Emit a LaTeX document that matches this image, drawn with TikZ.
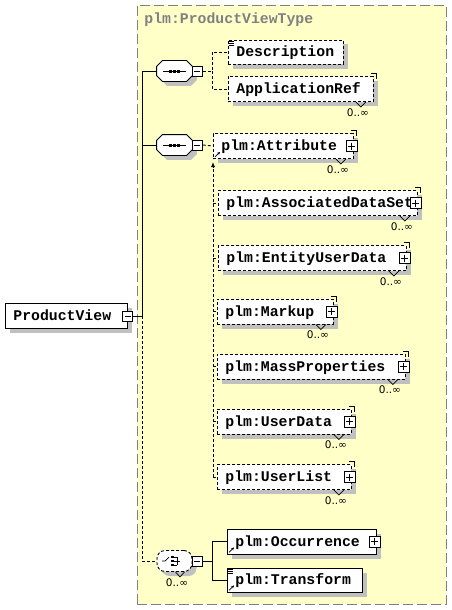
\documentclass[tikz,border=0pt]{standalone}
\usepackage{fontspec}
\newfontfamily\schemafont{Liberation Mono}
\newfontfamily\occursfont{DejaVu Sans}
\usetikzlibrary{shadows, arrows.meta, positioning, calc}
\definecolor{typefill}{RGB}{255,255,200}
\definecolor{typeline}{RGB}{128,128,128}
\definecolor{shadowgray}{RGB}{192,192,192}
% octagon outline round a compositor node
\newcommand{\octagonpath}[1]{($(#1.north west)+(6,0)$) -- ($(#1.north east)+(-6,0)$) -- ($(#1.north east)+(0,6)$)
    -- ($(#1.south east)+(0,-6)$) -- ($(#1.south east)+(-6,0)$) -- ($(#1.south west)+(6,0)$)
    -- ($(#1.south west)+(0,-6)$) -- ($(#1.north west)+(0,6)$) -- cycle}

\begin{document}
\begin{tikzpicture}[
    x=1pt, y=-1pt, line width=0.9pt,
    font=\schemafont\bfseries\fontsize{14.8}{16}\selectfont,
    boxshadow/.style={drop shadow={shadow xshift=4.5pt, shadow yshift=-4.5pt, fill=shadowgray, opacity=1}},
    typebox/.style={rectangle, draw=typeline, fill=typefill, dash pattern=on 10pt off 4pt, anchor=north west, inner sep=0pt},
    elem/.style={rectangle, draw, fill=white, minimum height=25pt, inner xsep=8pt, inner ysep=0pt,
                 text width=#1, text height=9pt, text depth=0pt, align=left, anchor=west, boxshadow},
    optional/.style={dash pattern=on 3pt off 2pt},
    compositor/.style={rectangle, minimum width=35pt, minimum height=20pt, inner sep=0pt},
    choicebox/.style={rectangle, rounded corners=8pt, draw, fill=white, optional,
                      minimum width=35pt, minimum height=21pt, inner sep=0pt, boxshadow},
    toggle/.style={rectangle, draw, solid, fill=white, inner sep=0pt},
    minusbox/.style={toggle, minimum size=10pt, path picture={
        \draw[solid] ([xshift=2pt]path picture bounding box.west) -- ([xshift=-2pt]path picture bounding box.east);}},
    plusbox/.style={toggle, minimum size=11pt, path picture={
        \draw[solid] ([xshift=2pt]path picture bounding box.west) -- ([xshift=-2pt]path picture bounding box.east)
                     ([yshift=-2pt]path picture bounding box.north) -- ([yshift=2pt]path picture bounding box.south);}},
    occurs/.style={font=\occursfont\fontsize{10.5}{12}\selectfont, inner sep=0pt, anchor=north},
    tiny/.style={line width=0.7pt, solid}
]
    \useasboundingbox (0,0) rectangle (452,610);

    % complex type frame
    \node[typebox, minimum width=309pt, minimum height=599pt] (ptype) at (137,5) {};
    \node[anchor=base west, inner sep=0pt, text=typeline] (ptitle) at (144,24) {plm:ProductViewType};

    % root element
    \node[elem=106pt] (pv) at (5,316) {ProductView};
    \node[minusbox] (pvm) at (pv.east) {};

    % compositors
    \node[compositor] (seq1) at (174.5,71) {};
    \node[compositor] (seq2) at (174.5,145) {};
    \node[choicebox] (choice) at (174.5,561) {};

    % sequence octagons
    \foreach \s in {seq1,seq2} {
        \fill[shadowgray, transform canvas={xshift=4.5pt, yshift=-4.5pt}] \octagonpath{\s};
        \draw[fill=white] \octagonpath{\s};
        \draw ([xshift=-11.5pt]\s.center) -- ([xshift=11.5pt]\s.center);
        \foreach \d in {-4,0,4}
            \fill ([xshift=\d pt]\s.center) ++(-1.5,-1.5) rectangle ++(3,3);
    }
    \node[minusbox] (s1m) at ([xshift=5pt]seq1.east) {};
    \node[minusbox] (s2m) at ([xshift=5pt]seq2.east) {};
    \node[minusbox] (chm) at ([xshift=5pt]choice.east) {};

    % choice symbol
    \draw[tiny] ([xshift=-12.5pt]choice.center) -- ([xshift=-9.5pt]choice.center) -- ([xshift=-5.5pt,yshift=4pt]choice.center);
    \foreach \d in {-4,0,4} {
        \fill ([xshift=-2pt,yshift=\d pt]choice.center) ++(-1.5,-1.3) rectangle ++(3,2.6);
        \draw[tiny] ([xshift=-0.5pt,yshift=\d pt]choice.center) -- ([xshift=2.5pt,yshift=\d pt]choice.center);
    }
    \draw[tiny] ([xshift=2.5pt,yshift=4pt]choice.center) -- ([xshift=2.5pt,yshift=-4pt]choice.center);
    \draw[tiny] ([xshift=2.5pt]choice.center) -- ([xshift=5.5pt]choice.center);

    % children of the first sequence
    \node[elem=99pt, optional, minimum height=24pt] (desc) at (228,52) {Description};
    \node[elem=129pt, optional] (appref) at (228,89) {ApplicationRef};

    % children of the second sequence
    \node[elem=124pt, optional] (attr) at (213,146) {plm:Attribute};
    \node[elem=183pt, optional] (ads) at (218,203) {plm:AssociatedDataSet};
    \node[elem=172pt, optional] (eud) at (218,258) {plm:EntityUserData};
    \node[elem=100pt, optional] (markup) at (217,311.5) {plm:Markup};
    \node[elem=172pt, optional] (mass) at (217,366.5) {plm:MassProperties};
    \node[elem=118pt, optional] (udata) at (217,421.5) {plm:UserData};
    \node[elem=118pt, optional] (ulist) at (217,477) {plm:UserList};

    % children of the choice
    \node[elem=133pt] (occ) at (227,541.5) {plm:Occurrence};
    \node[elem=119pt, minimum height=24pt] (trans) at (227,580) {plm:Transform};

    % expand boxes
    \foreach \n in {attr,ads,eud,markup,mass,udata,ulist,occ}
        \node[plusbox] (\n-plus) at ([xshift=-2pt]\n.east) {};

    % repeating elements: 0..unbounded
    \foreach \n in {appref,attr,ads,eud,markup,mass,udata,ulist} {
        \draw[tiny] ([xshift=-3pt,yshift=2.5pt]\n.north east) -- ([xshift=2.5pt,yshift=2.5pt]\n.north east) -- ([xshift=2.5pt,yshift=-3pt]\n.north east);
        \draw[tiny] ([xshift=-18pt]\n.south east) -- ([xshift=-13pt,yshift=-5pt]\n.south east) -- ([xshift=-8pt]\n.south east);
        \node[occurs] (\n-occ) at ([xshift=-16pt,yshift=-6pt]\n.south east) {0..∞};
    }
    \draw[tiny] ([xshift=1pt]choice.south) -- ([xshift=5.5pt,yshift=-5pt]choice.south) -- ([xshift=10pt]choice.south);
    \node[occurs] (choice-occ) at ([xshift=2.5pt,yshift=-6pt]choice.south) {0..∞};

    % documentation and reference marks
    \foreach \n in {desc,trans}
        \foreach \k in {2,4,6}
            \draw[tiny] ([xshift=1pt,yshift=-\k pt]\n.north west) -- ++(5,0);
    \foreach \n in {attr,occ,trans}
        \draw[tiny, -{Stealth[length=3pt,width=3pt]}] ([xshift=2pt,yshift=2pt]\n.south west) -- ++(5,-5);

    % connectors
    \coordinate (trunk) at (142,316);
    \coordinate (s1j) at (212,71);
    \coordinate (s2j) at (213,162);
    \coordinate (chj) at (212,561);

    \draw (pvm.east) -- (trunk) |- (seq1.west);
    \draw (trunk) |- (seq2.west);
    \draw[optional] (trunk) |- (choice.west);

    \draw[optional] (s1m.east) -- (s1j) |- (desc.west);
    \draw[optional] (s1j) |- (appref.west);

    \draw[optional] (s2m.east) -- (attr.west);
    \draw[optional, -{Latex[length=5pt,width=4pt]}] (ulist.west -| s2j) -- (s2j);
    \foreach \n in {ads,eud,markup,mass,udata,ulist}
        \draw[optional] (\n.west -| s2j) -- (\n.west);

    \draw (chm.east) -- (chj) |- (occ.west);
    \draw (chj) |- (trans.west);
\end{tikzpicture}
\end{document}
